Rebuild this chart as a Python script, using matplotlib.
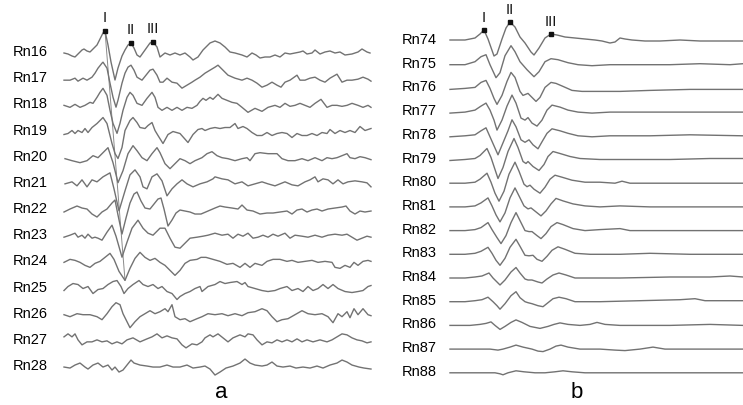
import matplotlib.pyplot as plt

plt.rcParams['font.family'] = ['Liberation Sans', 'DejaVu Sans']

# ---- panel a: traces Rn16..Rn28, (time, amplitude) pairs
rn16 = [(0, 0), (4, -1), (8, -3), (11, -4), (14, -1), (18, 3), (20, 4), (23, 2), (26, 1), (29, 4), (33, 8),
        (36, 14), (39, 20), (41, 22), (44, 8), (47, -9), (51, -27), (54, -15), (58, -3), (61, 3), (64, 8),
        (67, 10), (70, 5), (73, -2), (76, -4), (81, 3), (86, 10), (89, 11), (93, 6), (96, -4), (101, 0),
        (106, -2), (111, 0), (116, -2), (121, 0), (126, -4), (129, -7), (134, -4), (139, 3), (146, 10),
        (151, 12), (156, 10), (161, 6), (166, 1), (171, 0), (178, -2), (183, -4), (188, 0), (192, -2),
        (196, -5), (201, -4), (206, -4), (211, -2), (216, -4), (221, 0), (226, -1), (231, 0), (236, 1),
        (239, 2), (243, -1), (248, 0), (251, 3), (256, -1), (261, 1), (266, 2), (271, 0), (276, 1),
        (281, -2), (288, -1), (294, 1), (298, 4), (303, 1), (306, 0)]
rn17 = [(0, -1), (6, -1), (11, 1), (14, -2), (19, 1), (23, -1), (28, 2), (31, 6), (34, 11), (38, 16),
        (39, 17), (43, 11), (46, -4), (49, -18), (52, -28), (54, -21), (58, -4), (61, 6), (64, 12), (67, 14),
        (70, 9), (73, 2), (78, -1), (82, 4), (86, 9), (89, 10), (93, 4), (96, -3), (99, -3), (103, 1),
        (108, -3), (113, -4), (118, -9), (123, -6), (128, -3), (131, -1), (136, 2), (141, 6), (146, 9),
        (151, 12), (154, 14), (159, 9), (164, 4), (171, 1), (178, -1), (183, 1), (188, -1), (193, -4),
        (198, -8), (203, -6), (208, -3), (213, -6), (217, -8), (221, -3), (226, -1), (233, 4), (236, -1),
        (241, -1), (246, 1), (251, 2), (256, -1), (261, -3), (266, 1), (273, 5), (278, -3), (283, -1),
        (288, -1), (294, 0), (299, 2), (304, 0), (307, -2)]
rn18 = [(0, 0), (6, -2), (11, 1), (16, -2), (21, 0), (26, 3), (29, 2), (33, 8), (36, 13), (39, 17),
        (43, 10), (46, -5), (49, -18), (53, -28), (56, -18), (59, -5), (63, 8), (66, 13), (69, 10), (73, 2),
        (78, 0), (83, 7), (88, 13), (91, 8), (94, -2), (98, -5), (103, -2), (108, -5), (113, -2), (118, -5),
        (123, -2), (128, -3), (133, 0), (136, 4), (139, 7), (142, 5), (146, 8), (149, 6), (154, 11),
        (158, 7), (163, 5), (168, 3), (173, 2), (178, -2), (184, -7), (191, -3), (198, -6), (204, -2),
        (211, 0), (216, -2), (221, 2), (226, -1), (231, 0), (236, 2), (241, 0), (246, -2), (251, 2),
        (257, 6), (263, -2), (268, 0), (273, 0), (278, -1), (283, 0), (288, 2), (294, 0), (299, -2),
        (304, 0), (307, -2)]
rn19 = [(0, -3), (4, -2), (8, 1), (11, -2), (14, 1), (18, -1), (21, 3), (24, -1), (28, 4), (33, 8),
        (36, 11), (39, 14), (43, 8), (48, -12), (51, -22), (54, -27), (58, -16), (61, 1), (66, 11),
        (69, 14), (73, 9), (76, 4), (81, 3), (84, 6), (88, 9), (91, 1), (94, -4), (99, -12), (104, -3),
        (109, 0), (116, -2), (124, -11), (129, -3), (134, 2), (138, 3), (141, 1), (146, 3), (151, 4),
        (156, 3), (161, 4), (166, 4), (171, 8), (174, 3), (179, 5), (183, 3), (188, -1), (193, -4),
        (198, -4), (203, -1), (208, -4), (213, -2), (218, -1), (223, -2), (228, -6), (233, -2), (238, -4),
        (243, -4), (248, -2), (253, -4), (258, -1), (263, -2), (266, 2), (271, -2), (276, 1), (281, -1),
        (286, 1), (291, -1), (296, 5), (301, 1), (307, 3)]
rn20 = [(1, -1), (8, -3), (16, -5), (23, -3), (29, 2), (34, 0), (39, 5), (44, 10), (49, -5), (54, -25),
        (59, -13), (64, 4), (69, 12), (73, 7), (78, 0), (83, -3), (88, 4), (93, 10), (96, 5), (101, -6),
        (106, -11), (111, -6), (116, -1), (121, -3), (126, -6), (131, -3), (138, 0), (143, 4), (148, 6),
        (153, 2), (158, 0), (164, -1), (171, -3), (178, -1), (183, 0), (186, -3), (191, 4), (196, 5),
        (204, 4), (213, 4), (218, -1), (224, -3), (231, -3), (238, -1), (244, -3), (251, 0), (258, -3),
        (263, 0), (268, -1), (273, 0), (278, 2), (283, 4), (286, 0), (291, -1), (296, 1), (301, 0),
        (307, -2)]
rn21 = [(1, 0), (8, 2), (13, -2), (18, 4), (23, -3), (28, 4), (33, 2), (39, 7), (46, 11), (50, -5),
        (55, -27), (61, -7), (66, 9), (71, 14), (76, 7), (79, -3), (83, -5), (88, 7), (93, 10), (98, 3),
        (103, -12), (108, -5), (113, 0), (118, 4), (123, 0), (129, -3), (136, 0), (143, 2), (149, 5),
        (151, 7), (158, 5), (164, 4), (171, 0), (178, 2), (184, -2), (191, 0), (198, 2), (204, 0),
        (211, -2), (216, 0), (221, 2), (228, -1), (234, -2), (241, 2), (246, 4), (251, 7), (254, 2),
        (259, 5), (264, 4), (269, 0), (274, 4), (279, 0), (284, 2), (291, 3), (298, 2), (303, 1), (307, -3)]
rn22 = [(0, -2), (6, 1), (13, 4), (18, 2), (23, 1), (28, -4), (33, -7), (38, -2), (43, 1), (48, 7),
        (51, 10), (54, -5), (58, -24), (62, -8), (66, 7), (70, 16), (73, 18), (77, 9), (81, 2), (86, 1),
        (90, 6), (94, 11), (97, 12), (100, 1), (104, -16), (108, -10), (112, -3), (116, 0), (121, -1),
        (126, -2), (131, -4), (137, -4), (144, -1), (151, 2), (156, 4), (161, 3), (168, 2), (174, 1),
        (178, 5), (183, 0), (189, -1), (196, -4), (203, -3), (209, -3), (216, -2), (223, -1), (228, -4),
        (233, 0), (238, 1), (243, -2), (248, 0), (253, 1), (258, -1), (264, 1), (271, 2), (278, 3),
        (282, 4), (286, -1), (291, -4), (296, -1), (301, -2), (307, -1)]
rn23 = [(0, -1), (6, 1), (11, 3), (14, -1), (18, 1), (21, -2), (24, 2), (28, -2), (31, -1), (34, -2),
        (38, -4), (43, 4), (48, 11), (52, 0), (58, -21), (63, -6), (68, 8), (74, 16), (79, 8), (84, 3),
        (89, 1), (96, 8), (101, 8), (106, -2), (111, -11), (116, -12), (121, -7), (126, -2), (133, -1),
        (139, 0), (144, 1), (151, 3), (158, 1), (164, 2), (169, -2), (174, 2), (179, 0), (184, 3),
        (189, -2), (194, -1), (199, 1), (204, -1), (209, 2), (214, 0), (221, 3), (226, -2), (231, 1),
        (238, 0), (244, -1), (251, 1), (258, -1), (264, 1), (271, 2), (278, 1), (283, 2), (288, -1),
        (293, -4), (298, -2), (303, 0), (307, -1)]
rn24 = [(0, 0), (6, 3), (11, 2), (16, 0), (21, -3), (26, -5), (31, -1), (36, 1), (41, 5), (46, 9),
        (50, 3), (55, -9), (61, -18), (66, -6), (71, 4), (76, 10), (81, 5), (86, 2), (91, 4), (96, 0),
        (101, -3), (106, -8), (111, -13), (116, -8), (121, -1), (126, 2), (133, 3), (137, 5), (142, 5),
        (149, 3), (156, 1), (163, -2), (169, -1), (176, -5), (181, -1), (186, -5), (191, -1), (198, -3),
        (203, 1), (209, 3), (216, 3), (223, 1), (228, 2), (234, 0), (241, 1), (248, 2), (254, 0),
        (261, 1), (268, 0), (271, -5), (276, -6), (281, -3), (286, -5), (290, 0), (294, -3), (299, 1),
        (304, 2), (307, 1)]
rn25 = [(0, -2), (4, 2), (9, 5), (14, 4), (19, 0), (24, 2), (29, -5), (34, -1), (39, 0), (44, 4),
        (49, 7), (53, 8), (57, 2), (60, -5), (64, 0), (69, 4), (75, 8), (79, 4), (84, 2), (89, 4), (94, 0),
        (98, 2), (103, -3), (108, -5), (113, -11), (116, -8), (121, -5), (126, -3), (131, 0), (136, 2),
        (138, -3), (144, 2), (151, 4), (156, 7), (161, 5), (166, 6), (173, 7), (178, 4), (181, 6),
        (184, 2), (191, 0), (198, -2), (204, -3), (211, -2), (216, 0), (223, 2), (228, -2), (234, 0),
        (239, -3), (244, 2), (249, -2), (254, 0), (259, 4), (264, 0), (269, 4), (274, 0), (281, -3),
        (288, -4), (294, -3), (299, -2), (304, 2), (307, 3)]
rn26 = [(0, 0), (6, -2), (13, 1), (19, 0), (26, 0), (33, -2), (38, -5), (43, 1), (48, 8), (52, 12),
        (56, 10), (59, 1), (63, -7), (66, -13), (71, -7), (76, -2), (81, 1), (86, 4), (91, 1), (96, 3),
        (101, 6), (104, 3), (108, 10), (111, -2), (116, -5), (121, -4), (126, -7), (133, -4), (138, -2),
        (144, 1), (151, 0), (158, 1), (164, -1), (171, 1), (178, -1), (184, 2), (191, 3), (198, 6),
        (203, 4), (208, -2), (213, -7), (218, -5), (224, -4), (231, 0), (238, 4), (244, 1), (251, 0),
        (258, 1), (264, -2), (269, -8), (274, 1), (278, -2), (283, 3), (286, -3), (290, 6), (294, 0),
        (299, 6), (304, 0), (307, -1)]
rn27 = [(0, 4), (4, 7), (8, 4), (11, 7), (14, 1), (18, -4), (23, -1), (28, -1), (33, 1), (38, -1),
        (43, 0), (48, -3), (53, -1), (58, -3), (63, 1), (69, 3), (76, -1), (83, 2), (88, 4), (93, 7),
        (98, 3), (103, 5), (108, 3), (113, 2), (118, -4), (122, -7), (128, -3), (133, -4), (138, -1),
        (141, 3), (146, 6), (149, 4), (154, 7), (159, 3), (164, -1), (169, 3), (176, 6), (181, 4),
        (184, 7), (189, 6), (193, 1), (198, -4), (203, -1), (208, -2), (213, 1), (218, -1), (223, 1),
        (228, -1), (233, 2), (238, -1), (243, 1), (249, -1), (256, 1), (263, -1), (268, 1), (273, 4),
        (278, 7), (283, 6), (288, 3), (293, 1), (298, 0), (303, -2), (307, -1)]
rn28 = [(0, 0), (6, -1), (11, 2), (16, 4), (21, 0), (24, -2), (29, 2), (34, 4), (39, 0), (44, 2),
        (48, -3), (51, 0), (55, -5), (59, -3), (63, 2), (67, 7), (70, 4), (76, 2), (83, 1), (89, 0),
        (96, 0), (103, 2), (109, 0), (116, 0), (123, 2), (129, -1), (136, 0), (141, 1), (146, -2),
        (151, -8), (156, -5), (162, -1), (169, 1), (176, 4), (181, 8), (186, 4), (191, 2), (198, 1),
        (203, 2), (208, 5), (213, 1), (219, 0), (226, 1), (232, -1), (239, 0), (246, -1), (253, 1),
        (259, -1), (266, 2), (273, 4), (278, 7), (283, 5), (288, 2), (295, 0), (300, -1), (307, -2)]

names_a = ['Rn16', 'Rn17', 'Rn18', 'Rn19', 'Rn20', 'Rn21', 'Rn22', 'Rn23', 'Rn24', 'Rn25', 'Rn26',
           'Rn27', 'Rn28']
traces_a = [rn16, rn17, rn18, rn19, rn20, rn21, rn22, rn23, rn24, rn25, rn26, rn27, rn28]
picks_a = {'I': 41, 'II': 67, 'III': 89}  # pick times on Rn16

# ---- panel b: traces Rn74..Rn88
rn74 = [(0, 1), (15, 1), (25, 3), (30, 7), (34, 11), (38, 2), (44, -15), (47, -13), (52, 2), (56, 13),
        (60, 19), (65, 14), (70, 4), (75, -2), (81, -11), (84, -14), (89, -7), (95, 3), (101, 7), (107, 6),
        (115, 4), (125, 3), (135, 2), (145, 1), (152, 0), (160, -2), (165, -1), (170, 3), (175, 2),
        (182, 1), (195, 0), (210, 0), (230, 1), (250, 0), (270, 0), (293, 0)]
rn75 = [(0, 0), (15, 0), (25, 3), (31, 8), (36, 10), (40, 0), (46, -13), (50, -8), (55, 9), (61, 19),
        (65, 13), (70, 3), (77, -5), (84, -12), (89, -7), (95, 3), (101, 6), (108, 5), (118, 2), (128, 0),
        (142, -1), (160, 0), (190, 0), (220, 0), (250, 1), (280, 0), (293, 1)]
rn76 = [(0, -1), (15, 0), (25, 1), (31, 6), (36, 8), (40, 0), (44, -10), (47, -16), (52, -7), (57, 7),
        (61, 16), (65, 11), (70, -3), (73, -7), (78, -5), (81, -8), (86, -13), (90, -9), (95, 1), (101, 6),
        (106, 5), (113, 2), (122, -2), (132, -3), (145, -3), (170, -3), (200, -2), (240, -1), (270, -1),
        (293, -1)]
rn77 = [(0, -1), (15, 0), (25, 2), (31, 6), (36, 9), (40, 2), (44, -8), (47, -18), (52, -8), (57, 6),
        (62, 17), (66, 9), (71, -6), (75, -8), (78, -5.5), (82, -11), (87, -14), (92, -8), (97, 2),
        (102, 7), (110, 5), (118, 2), (128, 0), (142, -1), (160, 0), (200, 0), (240, 0), (293, 0)]
rn78 = [(0, -1), (15, 0), (25, 1), (31, 5), (36, 8), (40, -1), (44, -10), (48, -19), (53, -7), (58, 5),
        (62, 16), (66, 9), (71, -4), (75, -6.5), (79, -4), (83, -9), (88, -13), (92, -6), (97, 2.5),
        (102, 7), (110, 5), (118, 2.5), (128, 0), (142, -1), (160, 0), (200, 0), (240, 1), (293, 0)]
rn79 = [(0, -1), (15, 0), (25, 1), (30, 4), (37, 11), (41, 2), (45, -10), (48, -19), (53, -8), (58, 8),
        (64, 21), (68, 12), (73, -2), (76, -4), (78, -2), (83, -7), (89, -11), (94, -5), (98, 3), (103, 8),
        (110, 6), (120, 3), (130, 1), (150, 0), (180, 0), (220, 0), (260, 1), (293, 1)]
rn80 = [(0, 0), (15, 0), (25, 1), (30, 4), (37, 10), (41, 1), (45, -10), (49, -18), (54, -8), (59, 9),
        (65, 21), (69, 12), (74, -1), (77, -3.5), (80, -2), (84, -6), (90, -10), (95, -4), (100, 4),
        (105, 8), (112, 6), (122, 3), (135, 1), (150, 1), (165, 0), (172, 2), (180, 0), (200, 0),
        (240, 0), (293, 0)]
rn81 = [(0, 0), (15, 0), (25, 1), (31, 4), (38, 9), (42, 1), (46, -8), (50, -15), (55, -6), (60, 9),
        (65, 19), (69, 11), (74, 1), (78, -2), (81, -1), (86, -5), (91, -9), (96, -4), (101, 3), (106, 8.5),
        (113, 6), (123, 3), (135, 1), (150, 0), (170, 1), (200, 0), (240, 0), (293, 0)]
rn82 = [(0, 0), (15, 0), (25, 1), (31, 3), (38, 8), (42, 1), (47, -7), (51, -13), (56, -5), (61, 8),
        (66, 18), (70, 10), (75, 0), (79, -1), (82, -1), (87, -5), (91, -8), (96, -3), (101, 4), (107, 8),
        (113, 6), (123, 2), (135, 0), (150, 1), (170, 2), (180, 0), (200, 0), (240, 0), (293, 0)]
rn83 = [(0, 0), (15, 0), (25, 1), (31, 3), (38, 7), (42, 1), (46, -6), (50, -11), (55, -4), (60, 7),
        (66, 15), (70, 8), (75, -1), (79, -1.5), (83, -1), (87, -5), (92, -7), (97, -2), (102, 4),
        (108, 7.5), (115, 5), (125, 1), (140, 0), (170, 0), (200, 1), (240, 0), (293, 0)]
rn84 = [(0, 0), (15, 0), (25, 1), (32, 2), (39, 5), (43, 0), (47, -4), (50, -7), (55, -2), (61, 6),
        (66, 10.5), (70, 5), (75, -1), (78, -2), (82, -2), (88, -4), (92, -5), (97, -1), (103, 3), (109, 5),
        (116, 3), (125, 0), (140, 0), (170, 0), (220, 1), (260, 1), (280, 2), (293, 1)]
rn85 = [(0, 0), (15, 0), (25, 1), (32, 2), (38, 4.5), (43, 0), (47, -4), (50, -7.5), (55, -2), (61, 6),
        (66, 10), (70, 4), (75, 0), (78, -1), (82, -2), (88, -4), (93, -5), (98, -1), (103, 3), (109, 4.5),
        (116, 3), (125, 0), (150, 0), (190, 1), (230, 2), (245, 3), (255, 1), (293, 1)]
rn86 = [(0, 0), (20, 0), (30, 1), (36, 2), (41, 3.5), (45, 0), (50, -4), (55, -1), (61, 3), (66, 5.5),
        (72, 3), (80, -1), (90, -3), (98, -1), (104, 1), (110, 2.5), (118, 1), (130, 0), (140, 1),
        (147, 3), (155, 1), (170, 0), (220, 0), (260, 1), (293, 0)]
rn87 = [(0, 0), (20, 0), (40, 0), (48, -1), (53, 0), (60, 2), (66, 4), (73, 2), (82, 0), (88, -2),
        (93, -2.5), (100, 0), (106, 3), (111, 4), (118, 2), (130, 0), (150, 0), (165, -1), (175, -1.5),
        (190, 0), (203, 2), (215, 0), (260, 0), (293, 0)]
rn88 = [(0, 0), (30, 0), (45, 0), (50, -1), (53, -2), (58, 0), (66, 2), (74, 1), (85, 0), (95, 0),
        (105, 1), (113, 2), (122, 1), (135, 0), (180, 0), (230, 0), (293, 0)]

names_b = ['Rn74', 'Rn75', 'Rn76', 'Rn77', 'Rn78', 'Rn79', 'Rn80', 'Rn81', 'Rn82', 'Rn83', 'Rn84',
           'Rn85', 'Rn86', 'Rn87', 'Rn88']
traces_b = [rn74, rn75, rn76, rn77, rn78, rn79, rn80, rn81, rn82, rn83, rn84, rn85, rn86, rn87, rn88]
picks_b = {'I': 34, 'II': 60, 'III': 101}  # pick times on Rn74

trace_color = '#727272'

fig = plt.figure(figsize=(7.43, 4.05), dpi=100)


def draw_panel(ax, traces, names, spacing, picks, label_gap, pick_lift):
    for i, (tr, name) in enumerate(zip(traces, names)):
        t = [p[0] for p in tr]
        a = [p[1] - i * spacing for p in tr]
        ax.plot(t, a, color=trace_color, lw=1.0, solid_joinstyle='round', clip_on=False)
        ax.text(-label_gap, -i * spacing + 1, name, ha='right', va='center', fontsize=10.5,
                color='black')
    first = dict(traces[0])
    for lab, tp in picks.items():
        ax.plot(tp, first[tp], 's', color='#111111', ms=3.2, zorder=5)
        ax.annotate(lab, (tp, first[tp]), xytext=(0, pick_lift), textcoords='offset points',
                    ha='center', va='center', fontsize=10.5, color='#111111')
    ax.axis('off')


ax_a = fig.add_axes([60 / 743, 0, 314 / 743, 1])
ax_a.set_xlim(-4, 310)
ax_a.set_ylim(-352, 53)
draw_panel(ax_a, traces_a, names_a, 26.17, picks_a, 16, 9.5)

# move-out line from pick I on Rn16 down to the first trough of Rn24
tr24 = [p for p in rn24 if p[0] < 80]
t24, a24 = min(tr24, key=lambda p: p[1])
ax_a.plot([picks_a['I'], t24], [dict(rn16)[picks_a['I']], a24 - 8 * 26.17],
          color='#8a8a8a', lw=0.7, zorder=1)

ax_b = fig.add_axes([446 / 743, 0, 297 / 743, 1])
ax_b.set_xlim(-4, 293)
ax_b.set_ylim(-364, 41)
draw_panel(ax_b, traces_b, names_b, 23.7, picks_b, 13.5, 9)

fig.text(221 / 743, 1 - 393 / 405, 'a', ha='center', va='center', fontsize=16)
fig.text(577 / 743, 1 - 392 / 405, 'b', ha='center', va='center', fontsize=16)

fig.savefig('out.png', dpi=100)
